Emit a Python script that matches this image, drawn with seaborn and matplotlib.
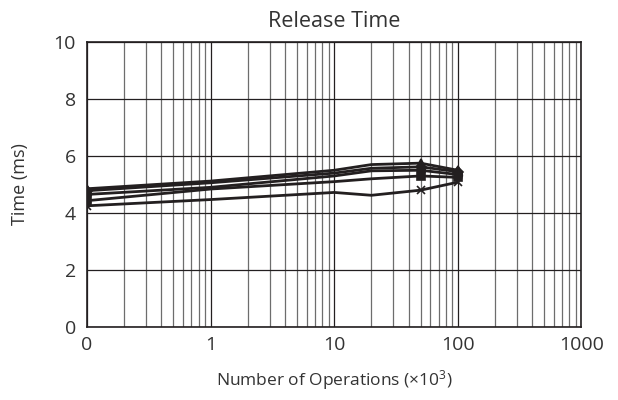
import matplotlib
matplotlib.use("Agg")
import matplotlib.pyplot as plt
import seaborn as sns
import pandas as pd
from matplotlib.ticker import LogLocator, NullFormatter

# ---- data ----
operations = [0.1, 1, 10, 20, 50, 100]          # x10^3 operations (0.1 shown as "0")
series_1 = [4.85, 5.12, 5.50, 5.70, 5.75, 5.50]
series_2 = [4.78, 5.06, 5.40, 5.57, 5.62, 5.45]
series_3 = [4.65, 4.90, 5.30, 5.48, 5.50, 5.35]
series_4 = [4.43, 4.84, 5.10, 5.20, 5.30, 5.25]
series_5 = [4.25, 4.47, 4.72, 4.62, 4.80, 5.08]
series_names = ["S1", "S2", "S3", "S4", "S5"]
series_markers = ["^", "D", "o", "s", "x"]

x_ticks = [0.1, 1, 10, 100, 1000]
x_tick_labels = ["0", "1", "10", "100", "1000"]
y_ticks = [0, 2, 4, 6, 8, 10]

sns.set_theme(style="white")
plt.rcParams['font.family'] = ['Open Sans', 'DejaVu Sans']
plt.rcParams['mathtext.default'] = 'regular'

fig = plt.figure(figsize=(6.18, 4.0), dpi=100)
ax = fig.add_axes([0.1408, 0.1833, 0.800, 0.711])

all_series = [series_1, series_2, series_3, series_4, series_5]
for name, vals, mk in zip(series_names, all_series, series_markers):
    df = pd.DataFrame({"ops": operations, "time": vals})
    sns.lineplot(data=df, x="ops", y="time", ax=ax, color="#231f20",
                 linewidth=2.0, marker=mk, markersize=5.5,
                 markeredgecolor="#231f20", markerfacecolor="#231f20",
                 markeredgewidth=1.2, markevery=[0, 4, 5], legend=False)

ax.set_xscale("log")
ax.set_xlim(0.1, 1000)
ax.set_ylim(0, 10)
ax.set_xticks(x_ticks)
ax.set_xticklabels(x_tick_labels)
ax.xaxis.set_minor_locator(LogLocator(base=10, subs=range(2, 10)))
ax.xaxis.set_minor_formatter(NullFormatter())
ax.set_yticks(y_ticks)

ax.grid(True, which="major", axis="both", color="#231f20", linewidth=0.9)
ax.grid(True, which="minor", axis="x", color="#6d6d6d", linewidth=0.9)
ax.set_axisbelow(True)

for sp in ax.spines.values():
    sp.set_color("#231f20")
    sp.set_linewidth(1.2)

ax.tick_params(axis="x", which="both", length=0, labelsize=14,
               colors="#333333", pad=7)
ax.tick_params(axis="y", which="both", length=0, labelsize=14,
               colors="#333333", pad=8)

ax.set_title("Release Time", fontsize=15.5, color="#333333", pad=11)
ax.set_xlabel("Number of Operations (×10$^{3}$)", fontsize=12.5, color="#333333", labelpad=10)
ax.set_ylabel("Time (ms)", fontsize=13, color="#333333", labelpad=18)

fig.savefig("out.png", dpi=100)
